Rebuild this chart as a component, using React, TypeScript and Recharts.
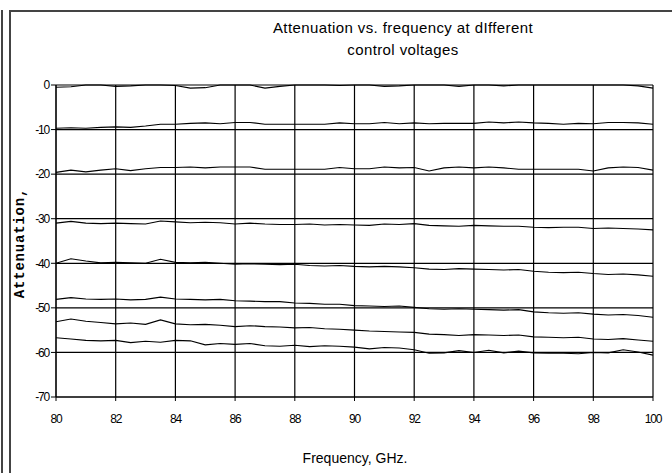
import React from "react"
import { LineChart, Line, XAxis, YAxis, CartesianGrid } from "recharts"

// frequency points, GHz
const freqs = [
  80, 80.5, 81, 81.5, 82, 82.5, 83, 83.5, 84, 84.5, 85, 85.5, 86, 86.5, 87, 87.5, 88, 88.5, 89, 89.5,
  90, 90.5, 91, 91.5, 92, 92.5, 93, 93.5, 94, 94.5, 95, 95.5, 96, 96.5, 97, 97.5, 98, 98.5, 99, 99.5, 100,
]

// attenuation (dB) per control voltage
const v1 = [
  -0.5, -0.4, 0, 0, -0.3, -0.2, 0, 0, -0.1, -0.7, -0.6, 0, 0, 0, -0.7, -0.3, 0, 0, 0, -0.1,
  0, 0, -0.3, -0.2, 0, 0, 0, -0.3, 0, 0, -0.2, 0, 0, 0, 0, 0, 0, 0, 0, -0.2, -0.7,
]
const v2 = [
  -9.7, -9.6, -9.7, -9.5, -9.4, -9.5, -9.2, -8.8, -8.8, -8.6, -8.5, -8.7, -8.4, -8.4, -8.8, -8.8, -8.8, -8.8, -8.8, -8.5,
  -8.7, -8.7, -8.4, -8.7, -8.5, -8.7, -8.6, -8.6, -8.6, -8.3, -8.5, -8.3, -8.5, -8.6, -8.8, -8.6, -8.7, -8.4, -8.4, -8.5, -8.8,
]
const v3 = [
  -19.6, -19.1, -19.5, -19.1, -18.8, -19.2, -18.8, -18.5, -18.5, -18.4, -18.6, -18.4, -18.4, -18.4, -18.9, -18.9, -18.9, -18.9, -18.9, -18.5,
  -18.8, -18.8, -18.4, -18.6, -18.5, -19.3, -18.6, -18.4, -18.6, -18.4, -18.6, -18.9, -18.9, -18.9, -18.9, -18.9, -19.3, -18.6, -18.4, -18.5, -19.1,
]
const v4 = [
  -31.0, -30.6, -31.0, -31.1, -31.0, -31.1, -31.2, -30.5, -30.7, -30.9, -30.8, -30.9, -31.2, -31.0, -31.2, -31.3, -31.3, -31.2, -31.4, -31.3,
  -31.4, -31.5, -31.2, -31.3, -31.1, -31.5, -31.6, -31.7, -31.5, -31.6, -31.7, -31.7, -31.9, -32.0, -31.9, -31.9, -32.2, -32.1, -32.2, -32.3, -32.5,
]
const v5 = [
  -40.0, -39.0, -39.5, -39.9, -39.8, -39.9, -40.0, -39.1, -39.8, -39.9, -39.8, -40.0, -40.2, -40.1, -40.2, -40.3, -40.2, -40.5, -40.6, -40.5,
  -40.7, -40.8, -40.7, -40.8, -41.0, -41.3, -41.4, -41.2, -41.3, -41.4, -41.5, -41.4, -41.8, -42.0, -42.1, -42.0, -42.3, -42.5, -42.4, -42.6, -42.9,
]
const v6 = [
  -48.1, -47.7, -48.0, -48.1, -48.0, -48.2, -48.1, -47.6, -48.0, -48.1, -48.2, -48.1, -48.4, -48.5, -48.6, -48.6, -48.9, -49.0, -49.2, -49.2,
  -49.5, -49.6, -49.7, -49.6, -49.9, -50.2, -50.3, -50.2, -50.3, -50.4, -50.5, -50.4, -50.9, -51.1, -51.2, -51.1, -51.4, -51.6, -51.5, -51.7, -52.1,
]
const v7 = [
  -53.1, -52.5, -53.0, -53.3, -53.6, -53.4, -53.7, -52.7, -53.6, -53.8, -53.7, -53.9, -54.2, -54.0, -54.2, -54.3, -54.5, -54.4, -54.7, -54.8,
  -55.0, -55.2, -55.3, -55.4, -55.5, -55.9, -56.0, -56.2, -56.0, -56.1, -56.2, -56.1, -56.5, -56.6, -56.7, -56.6, -57.0, -57.1, -56.9, -57.2, -57.5,
]
const v8 = [
  -56.7, -57.0, -57.3, -57.4, -57.3, -57.8, -57.5, -57.7, -57.3, -57.4, -58.3, -58.0, -58.2, -58.0, -58.5, -58.6, -58.4, -58.7, -58.5, -58.6,
  -58.8, -59.2, -58.9, -59.0, -59.4, -60.2, -60.1, -59.6, -60.0, -59.5, -60.1, -59.7, -60.1, -60.2, -60.2, -60.3, -60.0, -60.1, -59.4, -59.9, -60.6,
]

const xTicks = [80, 82, 84, 86, 88, 90, 92, 94, 96, 98, 100]
const yTicks = [0, -10, -20, -30, -40, -50, -60, -70]

const series = [v1, v2, v3, v4, v5, v6, v7, v8]
const data = freqs.map((f, i) => {
  const row: Record<string, number> = { f }
  series.forEach((s, k) => (row["v" + (k + 1)] = s[i]))
  return row
})

const sans = "Liberation Sans, Arial, sans-serif"
const tickFont = { fontSize: 12, fontFamily: sans, fill: "#000", letterSpacing: -1.2 }

export default function App() {
  return (
    <div style={{ position: "fixed", left: 0, top: 0, width: 672, height: 473, background: "#fff", overflow: "hidden" }}>
      {/* frame lines */}
      <div style={{ position: "absolute", left: 1, top: 10, width: 2, height: 463, background: "#444" }} />
      <div style={{ position: "absolute", left: 9, top: 10, width: 2, height: 463, background: "#444" }} />
      <div style={{ position: "absolute", left: 9, top: 10, width: 663, height: 2, background: "#444" }} />

      <div style={{
        position: "absolute", left: 203, width: 400, top: 17, textAlign: "center",
        fontFamily: sans, fontSize: 15, lineHeight: "22px", color: "#000", letterSpacing: 0.4,
      }}>
        Attenuation vs. frequency at dIfferent<br />control voltages
      </div>

      <LineChart width={672} height={473} data={data} margin={{ top: 85, right: 19, bottom: 46, left: 16 }}>
        <CartesianGrid stroke="#000" strokeWidth={1.2} horizontalValues={yTicks} verticalValues={xTicks} />
        <XAxis
          dataKey="f" type="number" domain={[80, 100]} ticks={xTicks} interval={0}
          height={30} tickSize={4} tickMargin={13} stroke="#000" tick={tickFont}
        />
        <YAxis
          type="number" domain={[-70, 0]} ticks={yTicks} interval={0}
          width={40} tickSize={5} tickMargin={2} stroke="#000" tick={tickFont}
        />
        {series.map((_, k) => (
          <Line
            key={k} dataKey={"v" + (k + 1)} stroke="#000" strokeWidth={1.1}
            dot={false} isAnimationActive={false} type="linear"
          />
        ))}
      </LineChart>

      <div style={{
        position: "absolute", left: 20, top: 243, transform: "translate(-50%, -50%) rotate(-90deg)",
        fontFamily: "Liberation Mono, Courier New, monospace", fontWeight: "bold", fontSize: 14, letterSpacing: 0.8,
        whiteSpace: "nowrap", color: "#000",
      }}>
        Attenuation,
      </div>
      <div style={{
        position: "absolute", left: 255, width: 200, top: 450, textAlign: "center",
        fontFamily: sans, fontSize: 14, color: "#000",
      }}>
        Frequency, GHz.
      </div>
    </div>
  )
}
